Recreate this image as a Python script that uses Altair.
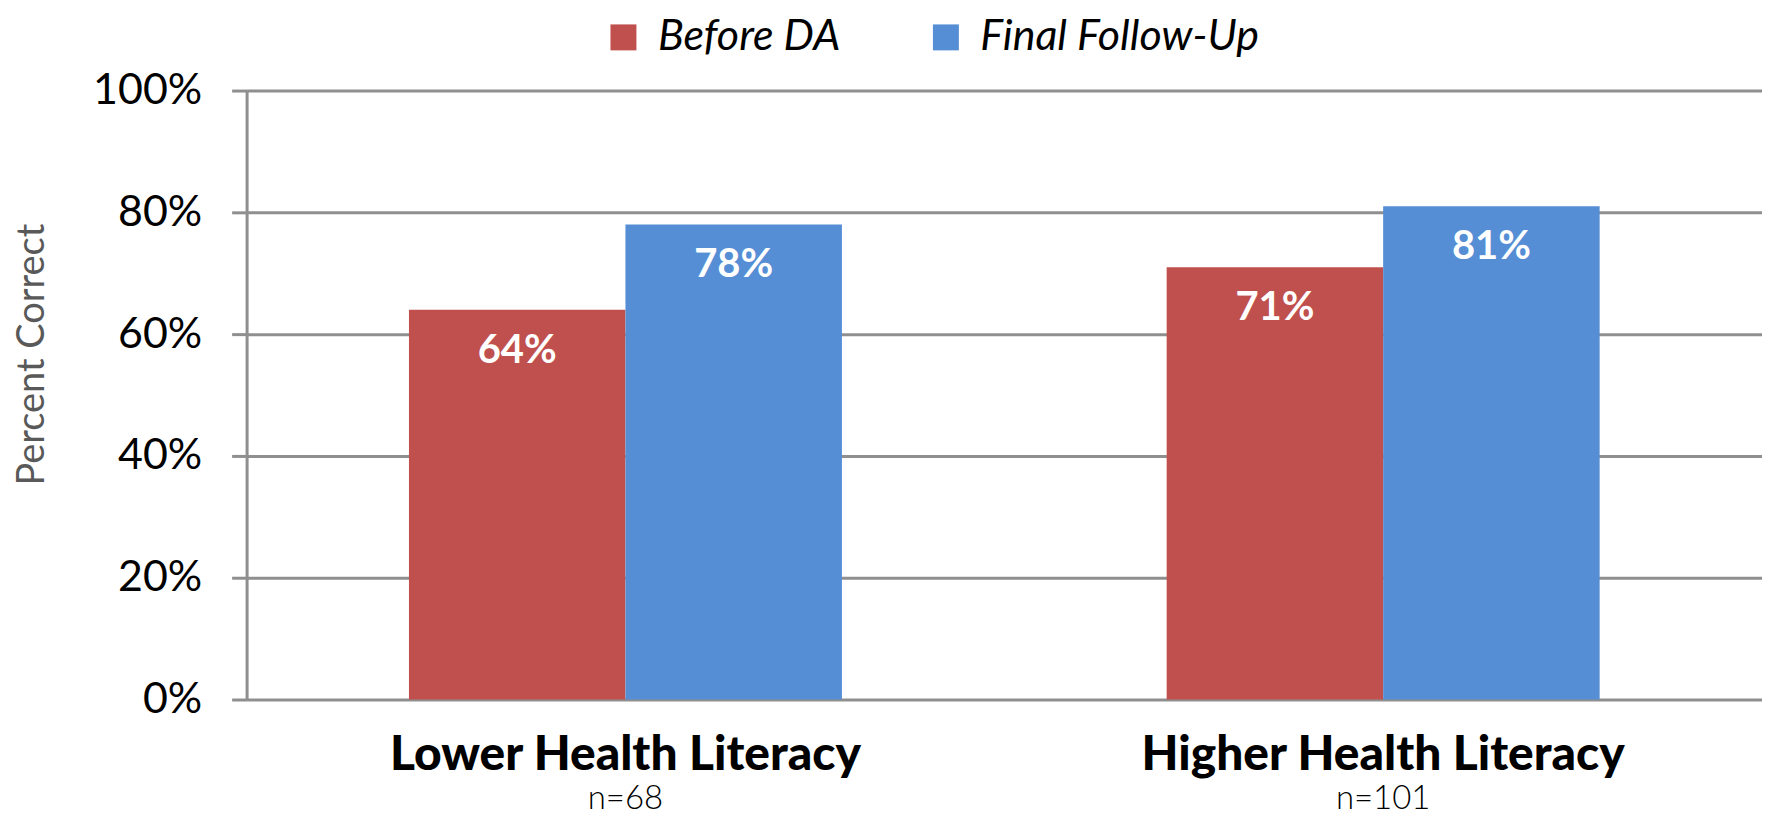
import altair as alt
import pandas as pd

groups = ["Lower Health Literacy", "Higher Health Literacy"]
sample_sizes = ["n=68", "n=101"]
series = ["Before DA", "Final Follow-Up"]
before_da = [0.64, 0.71]
final_follow_up = [0.78, 0.81]
colors = ["#C0504D", "#558ED5"]
y_ticks = [0, 0.2, 0.4, 0.6, 0.8, 1.0]

rows = []
for g, b, f in zip(groups, before_da, final_follow_up):
    rows.append({"group": g, "series": series[0], "value": b})
    rows.append({"group": g, "series": series[1], "value": f})
df = pd.DataFrame(rows)
n_df = pd.DataFrame({"group": groups, "n": sample_sizes})

FONT = "Lato"
GRAY = "#8F8F8F"
W, H = 1518, 610

x_axis = alt.Axis(title=None, labelAngle=0, labelFont=FONT, labelFontSize=48,
                  labelFontWeight=900, labelColor="black", labelBaseline="alphabetic",
                  labelPadding=70, labelLimit=0, ticks=False, tickSize=0, domain=False, grid=False)

y_axis = alt.Axis(values=y_ticks, format=".0%", title="Percent Correct",
                  titleFont=FONT, titleFontSize=38, titleFontWeight="normal",
                  titleColor="#595959", titleAngle=270, titleX=-214, titleY=264,
                  titleAlign="center", titleBaseline="middle",
                  labelFont=FONT, labelFontSize=43, labelColor="black", labelPadding=30,
                  tickSize=15, tickColor=GRAY, tickWidth=3,
                  domainColor=GRAY, domainWidth=3, gridColor=GRAY, gridWidth=3)

legend = alt.Legend(orient="none", legendX=356, legendY=-75, direction="horizontal",
                    title=None, symbolType="square", symbolSize=676, symbolStrokeWidth=0,
                    symbolOpacity=1, labelFont=FONT, labelFontSize=43, labelLimit=0,
                    labelFontStyle="italic", labelColor="black", labelOffset=13,
                    columnPadding=84, padding=0)

bars = alt.Chart(df).mark_bar().encode(
    x=alt.X("group:N", sort=groups, scale=alt.Scale(paddingInner=0, paddingOuter=0), axis=x_axis),
    xOffset=alt.XOffset("series:N", sort=series, scale=alt.Scale(paddingInner=0, paddingOuter=0.75)),
    y=alt.Y("value:Q", scale=alt.Scale(domain=[0, 1]), axis=y_axis),
    color=alt.Color("series:N", sort=series, scale=alt.Scale(domain=series, range=colors), legend=legend),
)

labels = alt.Chart(df).mark_text(dy=41, font=FONT, fontSize=40, fontWeight="bold",
                                 color="white", baseline="middle").encode(
    x=alt.X("group:N", sort=groups, title=None),
    xOffset=alt.XOffset("series:N", sort=series),
    y=alt.Y("value:Q", title="Percent Correct"),
    text=alt.Text("value:Q", format=".0%"),
)

nlabels = alt.Chart(n_df).mark_text(font=FONT, fontSize=33, fontWeight=300,
                                    baseline="alphabetic", color="black").encode(
    x=alt.X("group:N", sort=groups, title=None),
    y=alt.value(720),
    text="n:N",
)

chart = alt.layer(bars, labels, nlabels).properties(
    width=W, height=H,
    autosize=alt.AutoSizeParams(type="none"),
    padding={"left": 239, "top": 82, "right": 0, "bottom": 118},
).configure_view(stroke=None)

chart.save("out.html", embed_options={"renderer": "svg", "actions": False})
